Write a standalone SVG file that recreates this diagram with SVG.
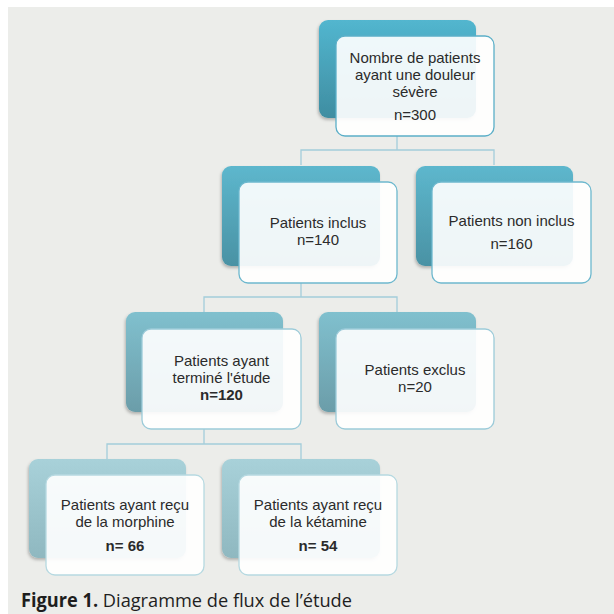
<svg xmlns="http://www.w3.org/2000/svg" width="614" height="614" viewBox="0 0 614 614">
<defs>
<linearGradient id="g1" x1="0" y1="0" x2="0" y2="1"><stop offset="0" stop-color="#52B6CF"/><stop offset="1" stop-color="#3F8DA1"/></linearGradient>
<linearGradient id="g2" x1="0" y1="0" x2="0" y2="1"><stop offset="0" stop-color="#5DB7CD"/><stop offset="1" stop-color="#4A92A4"/></linearGradient>
<linearGradient id="g3" x1="0" y1="0" x2="0" y2="1"><stop offset="0" stop-color="#80C0CE"/><stop offset="1" stop-color="#6B9DA9"/></linearGradient>
<linearGradient id="g4" x1="0" y1="0" x2="0" y2="1"><stop offset="0" stop-color="#A8D1D9"/><stop offset="1" stop-color="#8FB8C0"/></linearGradient>
<filter id="sh" x="-10%" y="-10%" width="125%" height="130%"><feDropShadow dx="-1" dy="2" stdDeviation="1.5" flood-color="#000" flood-opacity="0.25"/></filter>
</defs>
<style>
.front{fill:#FFFFFF;fill-opacity:0.91;stroke-width:1.3}
.f1{stroke:#5BAFC8}.f2{stroke:#6DB8CE}.f3{stroke:#9CCBD9}.f4{stroke:#B6D9E1}
.t{font-family:"Liberation Sans",Arial,sans-serif;font-size:15px;fill:#2B2B2B;text-anchor:middle}
.b{font-weight:bold}
.conn{fill:none;stroke:#A3CDDA;stroke-width:1.3}
</style>
<rect x="0" y="0" width="614" height="614" fill="#FFFFFF"/>
<rect x="8" y="7" width="606" height="607" fill="#ECEDEA"/>
<g id="connectors" class="conn">
<path d="M397 136V150M301 165V150H494V165"/>
<path d="M301 283V297M204 312V297H397V312"/>
<path d="M204 429V444M107 459V444H301V459"/>
</g>
<g id="n300">
<rect x="319" y="20" width="157" height="98" rx="9" fill="url(#g1)" filter="url(#sh)"/>
<rect x="336" y="36" width="158" height="100" rx="9" class="front f1"/>
<text class="t" x="415" y="63">Nombre de patients</text>
<text class="t" x="415" y="80">ayant une douleur</text>
<text class="t" x="415" y="97">sévère</text>
<text class="t" x="415" y="120">n=300</text>
</g>
<g id="n140">
<rect x="222" y="166" width="158" height="100" rx="9" fill="url(#g2)" filter="url(#sh)"/>
<rect x="239" y="182" width="158" height="101" rx="9" class="front f2"/>
<text class="t" x="318" y="228">Patients inclus</text>
<text class="t" x="318" y="245">n=140</text>
</g>
<g id="n160">
<rect x="416" y="166" width="157" height="100" rx="9" fill="url(#g2)" filter="url(#sh)"/>
<rect x="432" y="182" width="159" height="101" rx="9" class="front f2"/>
<text class="t" x="511.5" y="226">Patients non inclus</text>
<text class="t" x="511.5" y="249">n=160</text>
</g>
<g id="n120">
<rect x="126" y="312" width="157" height="100" rx="9" fill="url(#g3)" filter="url(#sh)"/>
<rect x="142" y="329" width="159" height="100" rx="9" class="front f3"/>
<text class="t" x="221.5" y="366">Patients ayant</text>
<text class="t" x="221.5" y="383">terminé l'étude</text>
<text class="t b" x="221.5" y="400">n=120</text>
</g>
<g id="n20">
<rect x="319" y="312" width="157" height="100" rx="9" fill="url(#g3)" filter="url(#sh)"/>
<rect x="336" y="329" width="158" height="100" rx="9" class="front f3"/>
<text class="t" x="415" y="375">Patients exclus</text>
<text class="t" x="415" y="392">n=20</text>
</g>
<g id="n66">
<rect x="29" y="459" width="157" height="99" rx="9" fill="url(#g4)" filter="url(#sh)"/>
<rect x="46" y="475" width="158" height="100" rx="9" class="front f4"/>
<text class="t" x="125" y="510">Patients ayant reçu</text>
<text class="t" x="125" y="527">de la morphine</text>
<text class="t b" x="125" y="551">n= 66</text>
</g>
<g id="n54">
<rect x="222" y="459" width="158" height="99" rx="9" fill="url(#g4)" filter="url(#sh)"/>
<rect x="239" y="475" width="158" height="100" rx="9" class="front f4"/>
<text class="t" x="318" y="510">Patients ayant reçu</text>
<text class="t" x="318" y="527">de la kétamine</text>
<text class="t b" x="318" y="551">n= 54</text>
</g>
<text x="21" y="607" font-family="'Open Sans','Noto Sans',sans-serif" font-size="19" fill="#1E1E1E" textLength="331" lengthAdjust="spacingAndGlyphs"><tspan font-weight="bold">Figure 1.</tspan> Diagramme de flux de l’étude</text>
</svg>
